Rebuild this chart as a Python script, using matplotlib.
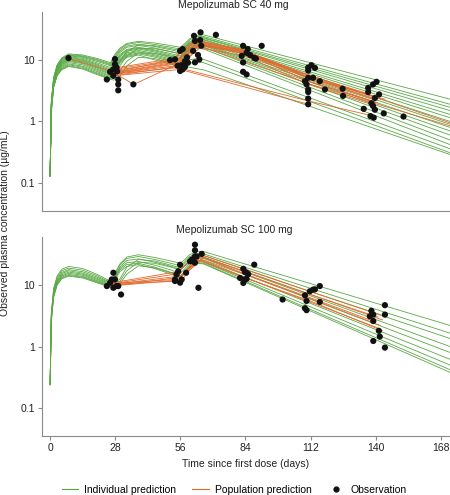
import matplotlib
matplotlib.use('Agg')
import matplotlib.pyplot as plt
from matplotlib.lines import Line2D

plt.rcParams['font.family'] = ['Liberation Sans', 'DejaVu Sans']

GREEN = '#5aa845'
ORANGE = '#e2692c'
GREY = '#8a8a8a'

# shared time grid (days) for the individual prediction curves
T_GRID = [0, 0.5, 1.5, 3, 5, 8, 14, 20, 26, 27.5, 30, 33, 38, 45, 52, 56, 58, 60, 63, 66, 172]

# ---- Mepolizumab SC 40 mg ----
IND_40 = [
  [0.13, 2.1, 5.2, 8.3, 10.8, 12.5, 12.0, 10.6, 9.0, 11.8, 15.5, 18.5, 20.0, 18.8, 17.0, 16.0, 18.5, 22.0, 25.0, 25.5, 2.3],
  [0.13, 2.0, 5.0, 8.1, 10.5, 12.2, 11.6, 10.2, 8.6, 11.2, 14.8, 17.8, 19.2, 17.8, 16.0, 15.0, 17.5, 21.0, 24.0, 24.0, 1.9],
  [0.13, 2.0, 4.9, 7.9, 10.3, 11.9, 11.3, 9.9, 8.3, 8.0, 9.5, 13.5, 17.5, 17.0, 15.2, 14.2, 16.5, 19.5, 22.5, 23.0, 1.7],
  [0.13, 1.9, 4.8, 7.7, 10.0, 11.6, 11.0, 9.5, 8.0, 10.5, 14.0, 16.8, 18.0, 16.5, 14.5, 13.5, 16.0, 19.5, 22.5, 22.5, 1.5],
  [0.13, 1.9, 4.7, 7.5, 9.7, 11.2, 10.6, 9.0, 7.5, 9.8, 13.2, 16.0, 17.2, 15.6, 13.6, 12.6, 15.0, 18.5, 21.5, 21.5, 1.3],
  [0.13, 1.8, 4.6, 7.3, 9.4, 10.9, 10.2, 8.6, 7.1, 6.9, 8.0, 11.5, 15.5, 15.2, 13.5, 12.5, 14.8, 18.0, 21.0, 21.0, 1.15],
  [0.13, 1.8, 4.5, 7.1, 9.2, 10.6, 9.9, 8.3, 6.8, 9.0, 12.2, 14.8, 16.0, 14.5, 12.6, 11.6, 13.8, 17.0, 20.0, 20.0, 1.0],
  [0.13, 1.75, 4.4, 6.9, 8.9, 10.3, 9.6, 8.0, 6.5, 8.6, 11.7, 14.3, 15.5, 14.0, 12.0, 11.0, 13.2, 16.5, 19.5, 19.0, 0.9],
  [0.13, 1.7, 4.3, 6.8, 8.7, 10.0, 9.3, 7.7, 6.2, 8.2, 11.2, 13.8, 15.0, 13.4, 11.5, 10.5, 12.6, 15.8, 18.5, 18.0, 0.8],
  [0.13, 1.65, 4.2, 6.6, 8.5, 9.7, 9.0, 7.4, 6.0, 5.8, 6.6, 9.5, 13.0, 12.8, 11.3, 10.4, 12.5, 15.5, 18.0, 17.5, 0.7],
  [0.13, 1.6, 4.1, 6.4, 8.2, 9.4, 8.7, 7.1, 5.8, 7.7, 10.5, 13.0, 14.2, 12.7, 10.8, 9.9, 11.9, 15.0, 17.5, 17.0, 0.6],
  [0.13, 1.55, 3.9, 6.2, 7.9, 9.0, 8.3, 6.8, 5.5, 7.3, 10.0, 12.4, 13.6, 12.1, 10.3, 9.4, 11.3, 14.2, 16.5, 16.0, 0.5],
  [0.13, 1.5, 3.8, 6.0, 7.6, 8.6, 7.9, 6.5, 5.3, 7.0, 9.6, 11.9, 13.0, 11.6, 9.8, 8.9, 10.8, 13.5, 15.5, 15.0, 0.42],
  [0.13, 1.45, 3.7, 5.8, 7.3, 8.3, 7.6, 6.2, 5.1, 6.7, 9.2, 11.4, 12.5, 11.1, 9.4, 8.5, 9.0, 10.0, 10.5, 10.2, 0.36],
  [0.13, 1.4, 3.6, 5.6, 7.1, 8.0, 7.3, 6.0, 4.9, 6.4, 8.8, 11.0, 12.0, 10.0, 8.5, 7.8, 8.2, 8.8, 9.2, 9.0, 0.31],
  [0.13, 1.4, 3.5, 5.5, 6.9, 7.8, 7.1, 5.8, 4.8, 4.7, 5.4, 8.0, 11.0, 10.5, 9.0, 8.2, 7.9, 7.6, 7.2, 6.9, 0.29],
]

POP_40_T = [
  [8, 26, 55, 63, 84, 111, 139],
  [25, 55, 62, 83, 110, 138],
  [27, 54, 63, 84, 112, 140],
  [28, 56, 64, 85, 111, 141],
  [26, 53, 62, 82, 110, 137],
  [27, 36, 55, 63, 84, 112, 140],
  [25, 56, 65, 112, 172],
  [26, 55, 64, 85, 172],
  [28, 57, 63, 84, 111, 140],
  [27, 56, 111],
  [26, 55, 110, 140],
  [29, 52, 62, 83, 112, 144],
]
POP_40_C = [
  [10.5, 6.6, 9.6, 19.5, 14.0, 5.2, 2.4],
  [6.8, 10.2, 20.5, 14.5, 5.5, 2.6],
  [6.2, 9.2, 18.5, 13.2, 4.8, 2.2],
  [6.0, 8.8, 17.8, 12.6, 4.5, 2.0],
  [7.2, 10.5, 21.0, 15.0, 5.8, 2.8],
  [6.3, 4.0, 8.6, 17.5, 12.5, 4.4, 2.0],
  [5.8, 8.2, 16.5, 4.0, 0.85],
  [6.0, 9.0, 18.0, 12.5, 0.95],
  [5.6, 8.0, 16.0, 11.5, 4.0, 1.8],
  [5.5, 7.0, 1.9],
  [5.8, 7.5, 2.2, 1.2],
  [6.5, 9.8, 19.0, 13.8, 5.0, 2.3],
]

OBS_40_T = [7.9, 24.4, 27.9, 27.9, 27.2, 25.8, 28.8, 27.2, 29.3, 29.3, 29.3, 28.6, 35.8,
            51.6, 53.7, 55.9, 57.0, 55.9, 57.0, 56.5, 58.0, 58.9, 59.3, 58.0, 54.8,
            61.9, 64.7, 62.3, 64.5, 61.5, 63.6, 64.2, 62.3, 65.0, 71.3,
            83.0, 82.4, 84.5, 85.0, 83.0, 83.0, 84.5, 86.0, 87.8, 88.5, 91.0,
            111.0, 112.4, 113.9, 111.0, 109.6, 111.0, 113.1, 110.3, 111.0, 111.0, 111.0, 111.0,
            116.0, 118.2, 125.8, 126.0,
            136.8, 136.8, 138.9, 140.4, 141.5, 139.7, 138.2, 138.9, 139.7, 134.9, 137.8, 139.2, 143.5, 152.0]
OBS_40_C = [10.7, 4.8, 10.3, 8.5, 7.0, 6.4, 6.5, 5.5, 4.8, 4.0, 3.2, 7.5, 4.0,
            9.9, 10.2, 14.0, 15.0, 6.6, 7.0, 8.2, 9.5, 11.0, 9.0, 7.7, 8.0,
            24.6, 28.0, 20.3, 21.0, 14.0, 12.0, 10.2, 9.1, 17.0, 25.5,
            16.9, 11.6, 13.0, 15.0, 9.1, 6.4, 5.8, 12.0, 10.8, 10.5, 16.9,
            7.5, 8.2, 7.4, 6.7, 4.5, 5.1, 5.1, 4.0, 3.3, 3.0, 2.35, 1.9,
            4.5, 3.3, 3.4, 2.6,
            3.5, 3.0, 4.0, 4.4, 2.75, 2.4, 1.97, 1.78, 1.55, 1.6, 1.22, 1.15, 1.35, 1.2]

# ---- Mepolizumab SC 100 mg ----
IND_100 = [
  [0.24, 3.5, 8.8, 14.0, 18.0, 20.0, 18.5, 15.0, 11.5, 14.5, 22.0, 28.5, 31.0, 28.0, 24.5, 22.5, 26.0, 31.0, 35.0, 35.0, 2.2],
  [0.24, 3.3, 8.3, 13.2, 17.0, 18.8, 17.4, 14.2, 11.0, 13.8, 21.0, 27.0, 29.0, 26.0, 22.5, 20.5, 24.0, 29.0, 32.5, 32.0, 1.65],
  [0.24, 3.1, 7.9, 12.5, 16.0, 17.8, 16.4, 13.5, 10.7, 10.5, 12.5, 19.5, 26.0, 24.5, 21.0, 19.0, 22.5, 27.0, 30.5, 30.0, 1.35],
  [0.24, 3.0, 7.5, 11.9, 15.3, 17.0, 15.6, 12.9, 10.4, 13.0, 19.5, 25.0, 26.5, 23.5, 20.0, 18.0, 21.0, 25.5, 29.0, 28.5, 1.0],
  [0.24, 2.9, 7.2, 11.4, 14.6, 16.2, 15.0, 12.4, 10.1, 9.9, 11.5, 17.0, 23.5, 22.5, 19.5, 17.5, 20.5, 24.5, 27.5, 27.0, 0.8],
  [0.24, 2.8, 6.9, 11.0, 14.0, 15.5, 14.4, 11.9, 9.8, 12.3, 18.5, 23.0, 24.0, 21.0, 17.5, 15.5, 18.5, 22.5, 25.5, 25.0, 0.62],
  [0.24, 2.7, 6.7, 10.6, 13.5, 14.8, 13.8, 11.5, 9.6, 11.8, 17.5, 21.5, 22.5, 19.5, 16.0, 14.0, 17.0, 21.0, 24.0, 23.5, 0.5],
  [0.24, 2.6, 6.5, 10.2, 13.0, 14.3, 13.4, 11.2, 9.4, 9.2, 10.5, 15.0, 20.5, 19.0, 15.8, 13.8, 16.5, 20.0, 23.0, 22.5, 0.42],
  [0.24, 2.55, 6.3, 9.9, 12.6, 13.9, 13.0, 10.9, 9.2, 11.2, 16.5, 20.0, 21.5, 18.5, 15.0, 13.0, 15.8, 19.5, 22.5, 22.0, 0.38],
]

POP_100_T = [
  [27, 55, 64, 85, 112, 142],
  [26, 54, 63, 84, 111, 141],
  [25, 56, 65, 86, 113, 143],
  [28, 55, 66, 84, 111, 140],
  [27, 57, 64, 85, 112, 142],
  [26, 55, 63, 83, 110, 141],
  [25, 54, 65, 84, 113, 143],
]
POP_100_C = [
  [10.9, 16.5, 32.0, 17.5, 7.8, 3.3],
  [10.4, 15.0, 30.0, 16.5, 7.2, 3.0],
  [10.0, 14.0, 29.0, 15.5, 6.8, 2.7],
  [9.8, 13.2, 28.0, 15.0, 6.4, 2.5],
  [10.6, 12.5, 27.0, 14.2, 6.0, 2.2],
  [9.6, 12.0, 26.0, 13.5, 5.6, 2.0],
  [10.2, 11.5, 25.0, 13.0, 5.3, 1.8],
]

OBS_100_T = [24.4, 25.8, 26.5, 27.2, 27.9, 27.2, 28.6, 29.3, 30.5,
             53.7, 54.4, 55.1, 55.9, 56.6, 55.9, 53.7, 58.5, 60.2, 61.6, 62.3, 62.3, 62.3, 62.3, 63.8, 63.0, 65.2, 61.0,
             84.5, 83.1, 83.8, 84.5, 85.2, 83.1, 87.8, 83.8, 81.7,
             100.0,
             109.6, 110.3, 111.7, 113.1, 113.9, 116.0, 109.6, 110.3, 116.0,
             137.5, 138.2, 139.0, 139.0, 139.0, 141.4, 141.8, 144.0, 144.0, 144.0]
OBS_100_C = [9.6, 10.9, 12.3, 15.8, 12.3, 9.0, 9.6, 9.6, 7.0,
             12.3, 14.9, 16.7, 21.3, 12.3, 10.9, 11.6, 15.8, 24.3, 24.3, 23.0, 29.2, 36.6, 45.2, 9.0, 29.0, 32.0, 26.0,
             12.6, 18.3, 16.2, 15.8, 15.0, 10.8, 21.4, 12.3, 13.0,
             5.8,
             6.8, 5.5, 7.9, 8.4, 8.5, 9.6, 4.2, 3.9, 5.3,
             3.1, 3.8, 3.3, 2.6, 1.23, 1.8, 1.45, 4.7, 3.3, 0.96]

X_TICKS = [0, 28, 56, 84, 112, 140, 168]
Y_TICKS = [0.1, 1, 10]
Y_TICK_LABELS = ['0.1', '1', '10']


def draw_panel(ax, ind, pop_t, pop_c, obs_t, obs_c, title):
  for curve in ind:
    ax.plot(T_GRID, curve, color=GREEN, lw=0.6, zorder=2)
  for t, c in zip(pop_t, pop_c):
    ax.plot(t, c, color=ORANGE, lw=0.6, zorder=3)
  ax.scatter(obs_t, obs_c, s=20, color='#111111', edgecolors='none', zorder=4)
  ax.set_yscale('log')
  ax.set_xlim(-3.5, 172)
  ax.set_ylim(0.035, 60)
  ax.set_yticks(Y_TICKS)
  ax.set_yticklabels(Y_TICK_LABELS)
  ax.minorticks_off()
  ax.set_xticks(X_TICKS)
  for side in ['top', 'right']:
    ax.spines[side].set_visible(False)
  for side in ['left', 'bottom']:
    ax.spines[side].set_color(GREY)
    ax.spines[side].set_linewidth(0.8)
  ax.tick_params(colors=GREY, labelcolor='#222222', labelsize=7.5, length=3, width=0.8, pad=2)
  ax.set_title(title, fontsize=7.5, color='#222222', pad=3, x=0.47)


fig = plt.figure(figsize=(4.5, 4.95), dpi=100)
ax1 = fig.add_axes([0.0933, 0.5737, 0.9067, 0.4021])
ax2 = fig.add_axes([0.0933, 0.1190, 0.9067, 0.4020])

draw_panel(ax1, IND_40, POP_40_T, POP_40_C, OBS_40_T, OBS_40_C, 'Mepolizumab SC 40 mg')
draw_panel(ax2, IND_100, POP_100_T, POP_100_C, OBS_100_T, OBS_100_C, 'Mepolizumab SC 100 mg')
ax1.tick_params(axis='x', bottom=False, labelbottom=False)

ax2.set_xlabel('Time since first dose (days)', fontsize=7.5, color='#222222', labelpad=4)
fig.text(0.012, 0.549, 'Observed plasma concentration (\u00b5g/mL)', rotation=90,
         ha='center', va='center', fontsize=7.5, color='#222222')

handles = [
  Line2D([], [], color=GREEN, lw=0.8, label='Individual prediction'),
  Line2D([], [], color=ORANGE, lw=0.8, label='Population prediction'),
  Line2D([], [], color='#111111', marker='o', ms=3.5, lw=0, label='Observation'),
]
fig.legend(handles=handles, loc='lower center', bbox_to_anchor=(0.52, -0.018), ncol=3,
           frameon=False, fontsize=7.5, handlelength=1.6, columnspacing=1.5, handletextpad=0.6)

fig.savefig('out.png', dpi=100)
